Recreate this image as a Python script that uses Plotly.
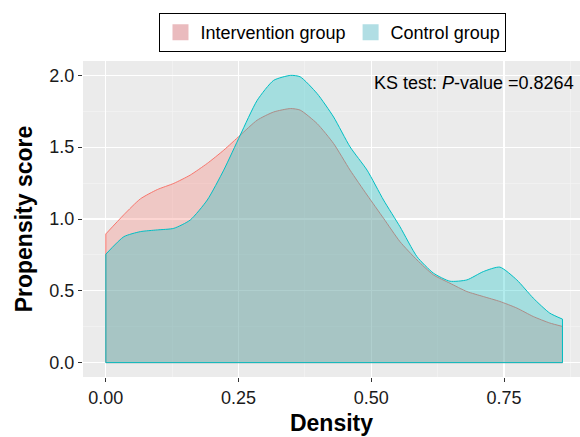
import plotly.graph_objects as go

# Data
x_grid = [0.0, 0.034, 0.065, 0.097, 0.128, 0.159, 0.191, 0.222, 0.253, 0.285, 0.316, 0.348,
          0.366, 0.398, 0.429, 0.460, 0.492, 0.523, 0.554, 0.586, 0.617, 0.648, 0.680,
          0.711, 0.742, 0.774, 0.805, 0.836, 0.860]
intervention = [0.896, 1.030, 1.140, 1.205, 1.248, 1.306, 1.387, 1.479, 1.583, 1.688, 1.745, 1.769,
                1.758, 1.664, 1.525, 1.340, 1.167, 1.005, 0.842, 0.715, 0.611, 0.553, 0.495,
                0.460, 0.426, 0.380, 0.321, 0.276, 0.252]
control = [0.755, 0.877, 0.912, 0.924, 0.935, 0.993, 1.132, 1.340, 1.583, 1.826, 1.965, 2.000,
           1.990, 1.873, 1.710, 1.502, 1.340, 1.132, 0.946, 0.738, 0.623, 0.567, 0.576,
           0.634, 0.665, 0.576, 0.449, 0.345, 0.303]
series_names = ["Intervention group", "Control group"]
x_ticks = [0.0, 0.25, 0.5, 0.75]
y_ticks = [0.0, 0.5, 1.0, 1.5, 2.0]
annotation_text = "KS test: <i>P</i>-value =0.8264"

FONT = "Liberation Sans, Arial, Helvetica, sans-serif"

fig = go.Figure()
styles = [
    (series_names[0], intervention, "#F8766D", "rgba(248,118,109,0.3)", "#EABBBE"),
    (series_names[1], control, "#00BFC4", "rgba(0,191,196,0.3)", "#B1DEE4"),
]
for name, ys, col, fillc, keyc in styles:
    # filled density area
    fig.add_trace(go.Scatter(
        x=x_grid, y=ys, mode="lines", fill="tozeroy", fillcolor=fillc,
        line=dict(color=col, width=1, shape="spline", smoothing=0.6),
        showlegend=False, hoverinfo="skip",
    ))
    # polygon edges (vertical ends and baseline)
    fig.add_trace(go.Scatter(
        x=[x_grid[0], x_grid[0], x_grid[-1], x_grid[-1]],
        y=[ys[0], 0, 0, ys[-1]], mode="lines",
        line=dict(color=col, width=1), showlegend=False, hoverinfo="skip",
    ))
for name, ys, col, fillc, keyc in styles:
    # legend key
    fig.add_trace(go.Scatter(
        x=[None], y=[None], mode="markers", name=name,
        marker=dict(symbol="square", size=16, color=keyc, line=dict(width=0)),
    ))

fig.add_annotation(
    x=0.992, xref="paper", xanchor="right", y=1.944, yref="y", yanchor="middle",
    text=annotation_text, showarrow=False,
    font=dict(size=18, color="black", family=FONT),
)

fig.update_layout(
    width=580, height=437,
    margin=dict(l=83, r=0, t=61, b=60, autoexpand=False),
    paper_bgcolor="white", plot_bgcolor="#EBEBEB",
    font=dict(family=FONT, color="black"),
    showlegend=True,
    legend=dict(
        orientation="h", x=0.503, xanchor="center", y=1.152, yanchor="top",
        bordercolor="black", borderwidth=1, bgcolor="white",
        font=dict(size=18, color="black", family=FONT), itemwidth=30,
        traceorder="normal", tracegroupgap=0,
    ),
    xaxis=dict(
        range=[-0.043, 0.893], tickvals=x_ticks, ticktext=["0.00", "0.25", "0.50", "0.75"],
        showgrid=True, gridcolor="white", gridwidth=1.2, zeroline=False,
        ticks="outside", ticklen=4, tickcolor="#333333",
        tickfont=dict(size=18, color="#1a1a1a"),
        minor=dict(tickvals=[0.125, 0.375, 0.625, 0.875], showgrid=True,
                   gridcolor="#F5F5F5", gridwidth=0.6),
        title=dict(text="<b>Density</b>", font=dict(size=23, color="black"), standoff=8),
        showline=False,
    ),
    yaxis=dict(
        range=[-0.1, 2.1], tickvals=y_ticks, ticktext=["0.0", "0.5", "1.0", "1.5", "2.0"],
        showgrid=True, gridcolor="white", gridwidth=1.2, zeroline=False,
        ticks="outside", ticklen=4, tickcolor="#333333",
        tickfont=dict(size=18, color="#1a1a1a"),
        minor=dict(tickvals=[0.25, 0.75, 1.25, 1.75], showgrid=True,
                   gridcolor="#F5F5F5", gridwidth=0.6),
        title=dict(text="<b>Propensity score</b>", font=dict(size=23, color="black"), standoff=10),
        showline=False,
    ),
)

fig.write_html(
    "out.html",
    config={"displayModeBar": False, "staticPlot": True},
    post_script="document.body.style.margin='0';document.body.style.overflow='hidden';",
)
